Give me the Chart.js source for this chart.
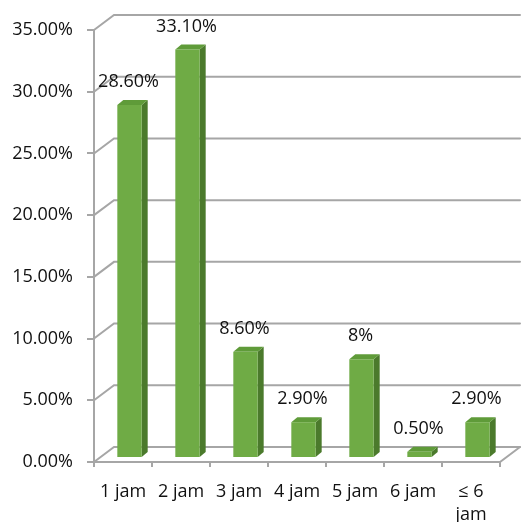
<!DOCTYPE html>
<html>
<head>
<meta charset="utf-8">
<script src="https://cdn.jsdelivr.net/npm/chart.js@4/dist/chart.umd.min.js"></script>
<style>
  html, body { margin: 0; padding: 0; background: #fff; }
  #wrap { width: 521px; height: 522px; }
</style>
</head>
<body>
<div id="wrap"><canvas id="c" width="521" height="522"></canvas></div>
<script>
// Durasi (jam) and share of respondents, in percent
const categories = ['1 jam', '2 jam', '3 jam', '4 jam', '5 jam', '6 jam', ['≤ 6', 'jam']];
const values = [28.6, 33.1, 8.6, 2.9, 8, 0.5, 2.9];
const valueLabels = ['28.60%', '33.10%', '8.60%', '2.90%', '8%', '0.50%', '2.90%'];
const yTicks = [0, 5, 10, 15, 20, 25, 30, 35];

const FONT = '"Open Sans", sans-serif';
const GRID = '#a6a6a6';
// depth of the back wall and of each bar
const WALL_DX = 20, WALL_DY = -15;
const BAR_DX = 6.5, BAR_DY = -4;
const SIDE_DX = 6, SIDE_DY = -5;

const threeD = {
  id: 'threeD',
  beforeDatasetsDraw(chart) {
    const { ctx, chartArea: a, scales: { y } } = chart;
    ctx.save();
    ctx.strokeStyle = GRID;
    ctx.lineWidth = 2;
    ctx.lineCap = 'round';
    yTicks.forEach(v => {
      const py = y.getPixelForValue(v);
      ctx.beginPath();
      ctx.moveTo(a.left, py);
      ctx.lineTo(a.left + WALL_DX, py + WALL_DY);
      ctx.lineTo(a.right + WALL_DX, py + WALL_DY);
      ctx.stroke();
    });
    // floor: front edge and right side
    const p0 = y.getPixelForValue(0);
    ctx.beginPath();
    ctx.moveTo(a.left, p0);
    ctx.lineTo(a.right, p0);
    ctx.lineTo(a.right + WALL_DX, p0 + WALL_DY);
    ctx.stroke();
    ctx.restore();
  },
  afterDatasetsDraw(chart) {
    const { ctx } = chart;
    const meta = chart.getDatasetMeta(0);
    ctx.save();
    meta.data.forEach((bar, i) => {
      const p = bar.getProps(['x', 'y', 'base', 'width'], true);
      const x0 = p.x - p.width / 2 + BAR_DX;
      const x1 = p.x + p.width / 2 + BAR_DX;
      const top = p.y + BAR_DY;
      const bot = p.base + BAR_DY;
      // side face
      ctx.fillStyle = '#4b7a2c';
      ctx.beginPath();
      ctx.moveTo(x1, top);
      ctx.lineTo(x1 + SIDE_DX, top + SIDE_DY);
      ctx.lineTo(x1 + SIDE_DX, bot + SIDE_DY);
      ctx.lineTo(x1, bot);
      ctx.closePath();
      ctx.fill();
      // top face
      ctx.fillStyle = '#5f9b39';
      ctx.beginPath();
      ctx.moveTo(x0, top);
      ctx.lineTo(x0 + SIDE_DX, top + SIDE_DY);
      ctx.lineTo(x1 + SIDE_DX, top + SIDE_DY);
      ctx.lineTo(x1, top);
      ctx.closePath();
      ctx.fill();
      // front face
      ctx.fillStyle = '#6fab45';
      ctx.fillRect(x0, top, x1 - x0, bot - top);
      // value label
      ctx.fillStyle = '#111';
      ctx.font = '18px ' + FONT;
      ctx.textAlign = 'center';
      ctx.textBaseline = 'middle';
      ctx.fillText(valueLabels[i], p.x + BAR_DX - 1, top - 23);
    });
    ctx.restore();
  }
};

new Chart(document.getElementById('c'), {
  type: 'bar',
  data: {
    labels: categories,
    datasets: [{
      data: values,
      backgroundColor: 'rgba(0,0,0,0)',
      borderWidth: 0,
      barPercentage: 0.42,
      categoryPercentage: 1
    }]
  },
  options: {
    responsive: false,
    animation: false,
    devicePixelRatio: 1,
    layout: { padding: { top: 30, right: 21, left: 0, bottom: 0 } },
    plugins: { legend: { display: false }, tooltip: { enabled: false } },
    scales: {
      x: {
        afterFit(s) { s.height = 60; },
        grid: { display: true, drawOnChartArea: false, offset: true, tickLength: 5, color: GRID, lineWidth: 2 },
        border: { display: false },
        ticks: {
          color: '#111',
          font: { family: FONT, size: 18, lineHeight: 1.25 },
          padding: 14,
          maxRotation: 0,
          autoSkip: false
        }
      },
      y: {
        min: 0,
        max: 35,
        afterFit(s) { s.width = 94; },
        afterBuildTicks(s) { s.ticks = yTicks.map(v => ({ value: v })); },
        grid: { display: true, drawOnChartArea: false, tickLength: 7, color: GRID, lineWidth: 2 },
        border: { display: true, color: GRID, width: 2 },
        ticks: {
          color: '#111',
          font: { family: FONT, size: 18 },
          padding: 14,
          callback: v => v.toFixed(2) + '%'
        }
      }
    }
  },
  plugins: [threeD]
});
</script>
</body>
</html>
